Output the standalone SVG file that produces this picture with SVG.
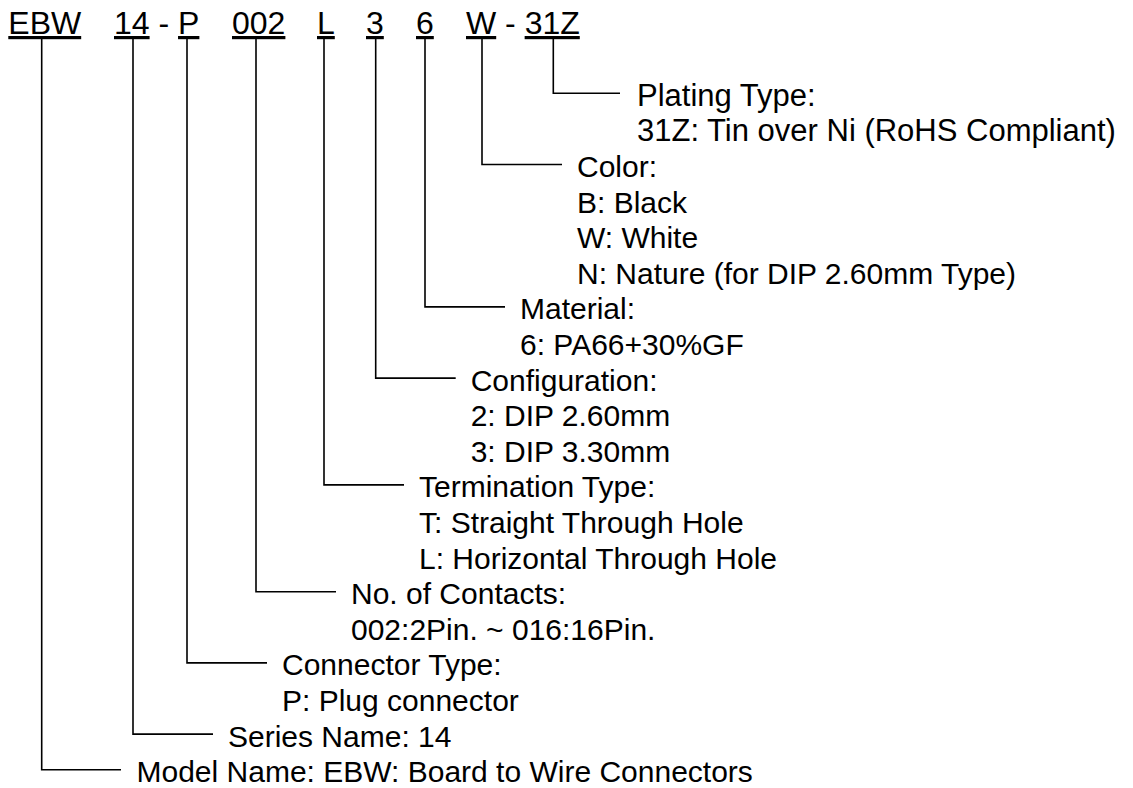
<svg xmlns="http://www.w3.org/2000/svg" width="1133" height="788" viewBox="0 0 1133 788">
<style>
.hd{font-family:"Liberation Sans",Arial,sans-serif;font-size:32px;fill:#000}
.u{text-decoration:underline}
.lb{font-family:"Liberation Sans",Arial,sans-serif;font-size:30px;fill:#000}
.lb2{font-family:"Liberation Sans",Arial,sans-serif;font-size:31px;fill:#000}
.c{fill:none;stroke:#000;stroke-width:1.6}
</style>
<rect width="1133" height="788" fill="#fff"/>
<g id="header">
<text class="hd u" x="8.3" y="34">EBW</text>
<text class="hd" x="114" y="34"><tspan class="u">14</tspan> - <tspan class="u">P</tspan></text>
<text class="hd u" x="232" y="34">002</text>
<text class="hd u" x="317" y="34">L</text>
<text class="hd u" x="366" y="34">3</text>
<text class="hd u" x="416" y="34">6</text>
<text class="hd" x="466" y="34"><tspan class="u">W</tspan> - <tspan class="u">31Z</tspan></text>
</g>
<g id="connectors">
<path class="c" d="M553.3 37.5V93.3H620"/>
<path class="c" d="M482 37.5V164.5H562"/>
<path class="c" d="M425 37.5V306.9H505"/>
<path class="c" d="M375.7 37.5V378.1H455.7"/>
<path class="c" d="M324 37.5V484.9H404"/>
<path class="c" d="M256 37.5V591.7H336"/>
<path class="c" d="M187 37.5V662.9H267"/>
<path class="c" d="M133 37.5V734.1H213"/>
<path class="c" d="M41.7 37.5V769.7H121"/>
</g>
<g id="plating">
<text class="lb2"><tspan x="637" y="105.8">Plating Type:</tspan><tspan x="637" y="141.4">31Z: Tin over Ni (RoHS Compliant)</tspan></text>
</g>
<g id="color">
<text class="lb"><tspan x="577" y="177">Color:</tspan><tspan x="577" y="212.6">B: Black</tspan><tspan x="577" y="248.2">W: White</tspan><tspan x="577" y="283.8">N: Nature (for DIP 2.60mm Type)</tspan></text>
</g>
<g id="material">
<text class="lb"><tspan x="520" y="319.4">Material:</tspan><tspan x="520" y="355">6: PA66+30%GF</tspan></text>
</g>
<g id="configuration">
<text class="lb"><tspan x="470.7" y="390.6">Configuration:</tspan><tspan x="470.7" y="426.2">2: DIP 2.60mm</tspan><tspan x="470.7" y="461.8">3: DIP 3.30mm</tspan></text>
</g>
<g id="termination">
<text class="lb"><tspan x="419" y="497.4">Termination Type:</tspan><tspan x="419" y="533">T: Straight Through Hole</tspan><tspan x="419" y="568.6">L: Horizontal Through Hole</tspan></text>
</g>
<g id="contacts">
<text class="lb"><tspan x="351" y="604.2">No. of Contacts:</tspan><tspan x="351" y="639.8">002:2Pin. ~ 016:16Pin.</tspan></text>
</g>
<g id="connector-type">
<text class="lb"><tspan x="282" y="675.4">Connector Type:</tspan><tspan x="282" y="711">P: Plug connector</tspan></text>
</g>
<g id="series">
<text class="lb" x="228" y="746.6">Series Name: 14</text>
</g>
<g id="model">
<text class="lb" x="136.5" y="782.2">Model Name: EBW: Board to Wire Connectors</text>
</g>
</svg>
